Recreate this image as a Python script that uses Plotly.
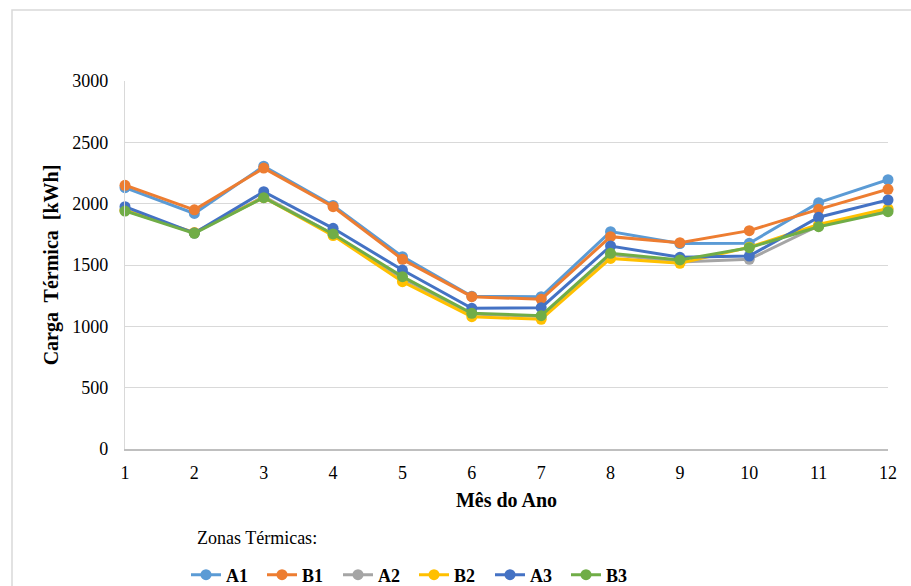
import plotly.graph_objects as go

months = list(range(1, 13))
series_names = ["A1", "B1", "A2", "B2", "A3", "B3"]
A1 = [2130, 1920, 2305, 1985, 1568, 1245, 1242, 1772, 1675, 1677, 2008, 2195]
B1 = [2150, 1950, 2290, 1975, 1546, 1242, 1220, 1731, 1682, 1780, 1954, 2117]
A2 = [1950, 1762, 2058, 1750, 1390, 1100, 1080, 1585, 1525, 1546, 1820, 1950]
B2 = [1945, 1765, 2050, 1740, 1364, 1079, 1057, 1554, 1514, 1645, 1830, 1960]
A3 = [1975, 1760, 2098, 1799, 1459, 1147, 1152, 1655, 1563, 1573, 1889, 2030]
B3 = [1940, 1758, 2049, 1753, 1405, 1106, 1087, 1595, 1541, 1641, 1812, 1935]
colors = ["#5B9BD5", "#ED7D31", "#A5A5A5", "#FFC000", "#4472C4", "#70AD47"]
values = [A1, B1, A2, B2, A3, B3]

FONT = "Liberation Serif"

fig = go.Figure()
for name, vals, col in zip(series_names, values, colors):
    fig.add_trace(go.Scatter(
        x=months, y=vals, name=f"<b>{name}</b>", mode="lines+markers",
        line=dict(color=col, width=3),
        marker=dict(color=col, size=11),
        cliponaxis=False,
    ))

fig.update_layout(
    width=911, height=586,
    margin=dict(l=125, r=23, t=81, b=137, autoexpand=False),
    paper_bgcolor="white", plot_bgcolor="white",
    font=dict(family=FONT, color="#000000", size=18),
    showlegend=True,
    legend=dict(
        orientation="h", x=(186 - 125) / 763, xanchor="left",
        y=-(575 - 449) / 368, yanchor="middle",
        font=dict(family=FONT, size=18, color="#000000"),
        entrywidth=31, entrywidthmode="pixels",
        itemwidth=30, tracegroupgap=0,
        bgcolor="rgba(0,0,0,0)",
    ),
    xaxis=dict(
        range=[1, 12], tickmode="array", tickvals=months,
        showgrid=False, zeroline=False,
        showline=True, linecolor="#BFBFBF", linewidth=1.5,
        ticks="", tickfont=dict(family=FONT, size=18, color="#000000"),
        ticklabelstandoff=7,
        title=dict(text="<b>Mês do Ano</b>", font=dict(family=FONT, size=20, color="#000000"), standoff=11),
    ),
    yaxis=dict(
        range=[0, 3000], dtick=500, tick0=0,
        showgrid=True, gridcolor="#D9D9D9", gridwidth=1.2,
        zeroline=False,
        showline=True, linecolor="#D9D9D9", linewidth=1.2,
        ticks="", tickfont=dict(family=FONT, size=18, color="#000000"),
        ticklabelstandoff=12,
        title=dict(text="<b>Carga  Térmica  [kWh]</b>", font=dict(family=FONT, size=20, color="#000000"), standoff=8),
    ),
    annotations=[dict(
        text="Zonas Térmicas:", xref="paper", yref="paper",
        x=(195 - 125) / 763, y=-(538 - 449) / 368, xanchor="left", yanchor="middle",
        showarrow=False, font=dict(family=FONT, size=18, color="#000000"),
    )],
    shapes=[dict(
        type="rect", xref="paper", yref="paper",
        x0=(12 - 125) / 763, x1=1.2, y0=-0.6, y1=1 + (81 - 10) / 368,
        line=dict(color="#D9D9D9", width=1.5), fillcolor="rgba(0,0,0,0)", layer="below",
    )],
)

fig.write_html("out.html")
